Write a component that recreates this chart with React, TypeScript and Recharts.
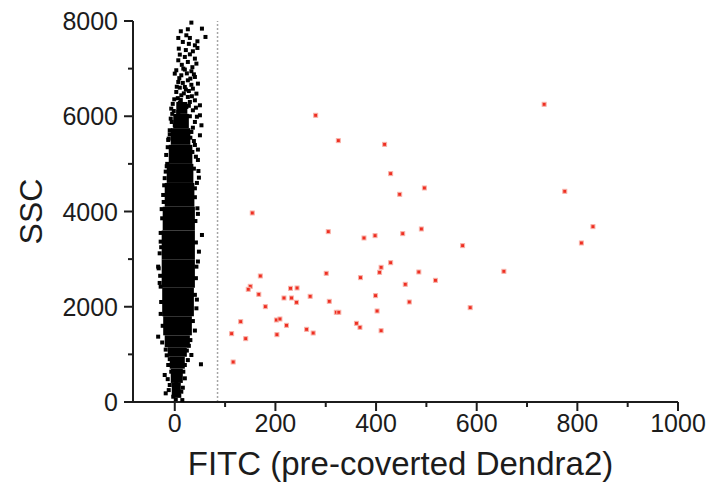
import React from 'react';
import { ScatterChart, Scatter, XAxis, YAxis, ReferenceArea, ReferenceLine, Label } from 'recharts';

// red events past the gate (FITC, SSC)
const converted = [
  { x: 280, y: 6020 }, { x: 325, y: 5488 }, { x: 417, y: 5410 }, { x: 429, y: 4795 },
  { x: 496, y: 4494 }, { x: 447, y: 4361 }, { x: 154, y: 3969 }, { x: 305, y: 3577 },
  { x: 376, y: 3444 }, { x: 398, y: 3493 }, { x: 453, y: 3535 }, { x: 490, y: 3633 },
  { x: 429, y: 2925 }, { x: 410, y: 2828 }, { x: 407, y: 2723 }, { x: 485, y: 2730 },
  { x: 518, y: 2555 }, { x: 170, y: 2646 }, { x: 301, y: 2702 }, { x: 369, y: 2611 },
  { x: 458, y: 2471 }, { x: 150, y: 2429 }, { x: 146, y: 2366 }, { x: 230, y: 2387 },
  { x: 243, y: 2394 }, { x: 167, y: 2261 }, { x: 217, y: 2184 }, { x: 232, y: 2184 },
  { x: 242, y: 2093 }, { x: 269, y: 2219 }, { x: 307, y: 2114 }, { x: 399, y: 2233 },
  { x: 466, y: 2100 }, { x: 180, y: 2002 }, { x: 321, y: 1884 }, { x: 326, y: 1884 },
  { x: 402, y: 1911 }, { x: 131, y: 1687 }, { x: 202, y: 1722 }, { x: 209, y: 1743 },
  { x: 222, y: 1610 }, { x: 361, y: 1652 }, { x: 368, y: 1568 }, { x: 410, y: 1497 },
  { x: 113, y: 1435 }, { x: 141, y: 1330 }, { x: 203, y: 1414 }, { x: 262, y: 1526 },
  { x: 275, y: 1449 }, { x: 116, y: 840 }, { x: 734, y: 6251 }, { x: 775, y: 4424 },
  { x: 831, y: 3682 }, { x: 808, y: 3339 }, { x: 572, y: 3283 }, { x: 654, y: 2744 },
  { x: 587, y: 1981 },
];

// dense black population, as SSC bands [yLow, yHigh, xLow, xHigh]
const coreBands = [
  [100, 400, -6, 12], [400, 700, -8, 16], [700, 950, -10, 20], [950, 1150, -14, 24],
  [1150, 1400, -20, 30], [1400, 1800, -23, 34], [1800, 2400, -25, 38], [2400, 3000, -26, 40],
  [3000, 3600, -26, 40], [3600, 4100, -24, 40], [4100, 4600, -20, 39], [4600, 5000, -16, 37],
  [5000, 5400, -12, 35], [5400, 5750, -8, 31], [5750, 6050, -3, 28], [6050, 6300, 3, 25],
];

// sparse black events around the core
const unconverted = [
  { x: 33, y: 7966 }, { x: 54, y: 7840 }, { x: 26, y: 7826 }, { x: 12, y: 7784 },
  { x: 23, y: 7700 }, { x: 7, y: 7644 }, { x: 61, y: 7665 }, { x: 30, y: 7644 },
  { x: 45, y: 7574 }, { x: 40, y: 7490 }, { x: 45, y: 7434 }, { x: 36, y: 7364 },
  { x: 10, y: 7294 }, { x: 20, y: 7245 }, { x: 40, y: 7210 }, { x: 7, y: 7175 },
  { x: 26, y: 7140 }, { x: 43, y: 7105 }, { x: 3, y: 6966 }, { x: 17, y: 7000 },
  { x: 33, y: 6945 }, { x: 0, y: 6895 }, { x: 13, y: 6860 }, { x: 40, y: 6825 },
  { x: 26, y: 6755 }, { x: 7, y: 6720 }, { x: 46, y: 6685 }, { x: 20, y: 6615 },
  { x: 36, y: 6580 }, { x: 3, y: 6510 }, { x: 43, y: 6475 }, { x: 13, y: 6440 },
  { x: 26, y: 6405 }, { x: -1, y: 6356 }, { x: 40, y: 6335 }, { x: 10, y: 6285 },
  { x: 50, y: 6230 }, { x: 23, y: 6195 }, { x: -7, y: 6160 }, { x: 36, y: 6125 },
  { x: 7, y: 6090 }, { x: 50, y: 6020 }, { x: -8, y: 5950 }, { x: 20, y: 5964 },
  { x: 40, y: 5880 }, { x: 0, y: 5810 }, { x: 53, y: 5810 }, { x: -10, y: 5705 },
  { x: 33, y: 5670 }, { x: 50, y: 5600 }, { x: -12, y: 5530 }, { x: -13, y: 5502 },
  { x: 40, y: 5397 }, { x: -17, y: 5187 }, { x: 46, y: 5082 }, { x: -18, y: 4837 },
  { x: 48, y: 4711 }, { x: 40, y: 4487 }, { x: -23, y: 4347 }, { x: 45, y: 4067 },
  { x: -25, y: 3857 }, { x: 54, y: 3507 }, { x: -28, y: 3367 }, { x: -30, y: 3122 },
  { x: 48, y: 3157 }, { x: -33, y: 2842 }, { x: -32, y: 2807 }, { x: 43, y: 2842 },
  { x: -28, y: 2422 }, { x: 43, y: 1967 }, { x: -33, y: 1372 }, { x: 33, y: 987 },
  { x: 52, y: 792 }, { x: -20, y: 567 }, { x: -10, y: 357 }, { x: 20, y: 497 },
  { x: 13, y: 216 }, { x: -18, y: 182 }, { x: -3, y: 111 }, { x: 7, y: 777 },
  { x: -13, y: 777 }, { x: -7, y: 636 }, { x: 17, y: 636 }, { x: 3, y: 426 },
  { x: 20, y: 777 }, { x: 15, y: 40 }, { x: 2, y: 60 }, { x: -10, y: 900 },
  { x: 24, y: 1080 }, { x: -18, y: 1100 }, { x: 31, y: 1300 }, { x: -24, y: 1600 },
  { x: 36, y: 1700 }, { x: -27, y: 2100 }, { x: 40, y: 2250 }, { x: 42, y: 2600 },
  { x: -29, y: 2650 }, { x: 42, y: 3350 }, { x: -28, y: 3550 }, { x: 41, y: 3800 },
  { x: -26, y: 4050 }, { x: 40, y: 4300 }, { x: -21, y: 4550 }, { x: 38, y: 4900 },
  { x: -15, y: 5000 }, { x: 35, y: 5250 }, { x: 31, y: 5550 }, { x: -5, y: 6050 },
  { x: 30, y: 6000 }, { x: 16, y: 7560 }, { x: 28, y: 7520 }, { x: 8, y: 7420 },
  { x: 22, y: 7390 }, { x: 30, y: 7300 }, { x: 14, y: 7080 }, { x: 35, y: 7030 },
  { x: 24, y: 6900 }, { x: 9, y: 6800 }, { x: 31, y: 6790 }, { x: 16, y: 6700 },
  { x: 33, y: 6660 }, { x: 10, y: 6600 }, { x: 28, y: 6530 }, { x: 18, y: 6480 },
  { x: 34, y: 6420 }, { x: 6, y: 6380 }, { x: 30, y: 6300 }, { x: -4, y: 6260 },
  { x: 28, y: 6220 }, { x: 42, y: 6180 }, { x: -2, y: 6110 }, { x: 44, y: 5990 },
  { x: -6, y: 5880 }, { x: 36, y: 5760 }, { x: -10, y: 5620 }, { x: 38, y: 5480 },
  { x: -14, y: 5350 }, { x: 42, y: 5150 }, { x: -16, y: 4950 }, { x: 44, y: 4600 },
  { x: -22, y: 4200 }, { x: 46, y: 3950 }, { x: -27, y: 3250 }, { x: 46, y: 2950 },
  { x: -30, y: 2500 }, { x: 44, y: 2150 }, { x: -28, y: 1850 }, { x: 40, y: 1500 },
  { x: -25, y: 1250 }, { x: 28, y: 1180 }, { x: -16, y: 980 }, { x: 26, y: 880 },
  { x: -14, y: 480 }, { x: 16, y: 300 }, { x: -12, y: 250 }, { x: 9, y: 130 },
  { x: 20, y: 6980 }, { x: 38, y: 6880 }, { x: 4, y: 6620 }, { x: 22, y: 6560 },
  { x: 12, y: 6340 }, { x: 46, y: 5300 }, { x: 47, y: 4850 }, { x: -20, y: 4700 },
];

const xTicks = [0, 100, 200, 300, 400, 500, 600, 700, 800, 900, 1000];
const yTicks = [0, 1000, 2000, 3000, 4000, 5000, 6000, 7000, 8000];
const gateX = 85;

const font = '"Liberation Sans", Arial, Helvetica, sans-serif';
const ink = '#1c1c1c';

const dot = (color: string, s: number, halo?: string) => (p: any) => (
  <rect
    x={p.cx - s / 2}
    y={p.cy - s / 2}
    width={s}
    height={s}
    fill={color}
    stroke={halo || 'none'}
    strokeWidth={halo ? 1 : 0}
  />
);

const XTick = (props: any) => {
  const { x, y, payload } = props;
  const major = payload.value % 200 === 0;
  return (
    <g>
      <line x1={x} x2={x} y1={y} y2={y + (major ? 9 : 5)} stroke={ink} strokeWidth={2} />
      {major && (
        <text x={x} y={y + 30} textAnchor="middle" fontSize={25} fontFamily={font} fill={ink}>
          {payload.value}
        </text>
      )}
    </g>
  );
};

const YTick = (props: any) => {
  const { x, y, payload } = props;
  const major = payload.value % 2000 === 0;
  return (
    <g>
      <line x1={x - (major ? 9 : 5)} x2={x} y1={y} y2={y} stroke={ink} strokeWidth={2} />
      {major && (
        <text x={x - 15} y={y + 9} textAnchor="end" fontSize={25} fontFamily={font} fill={ink}>
          {payload.value}
        </text>
      )}
    </g>
  );
};

export default function App() {
  return (
    <div style={{ position: 'absolute', left: 0, top: 0, background: '#fff' }}>
      <ScatterChart width={712} height={495} margin={{ top: 21, right: 34, bottom: 0, left: 0 }}>
        <XAxis
          type="number"
          dataKey="x"
          domain={[-83, 1000]}
          ticks={xTicks}
          allowDataOverflow
          height={93}
          tickSize={0}
          tickMargin={0}
          tick={<XTick />}
          axisLine={{ stroke: ink, strokeWidth: 2 }}
          tickLine={false}
          interval={0}
        >
          <Label
            content={(p: any) => (
              <text
                x={p.viewBox.x + p.viewBox.width / 2 - 5}
                y={p.viewBox.y + 73}
                textAnchor="middle"
                fontSize={33}
                fontFamily={font}
                fill={ink}
              >
                FITC (pre-coverted Dendra2)
              </text>
            )}
          />
        </XAxis>
        <YAxis
          type="number"
          dataKey="y"
          domain={[0, 8000]}
          ticks={yTicks}
          width={133}
          tickSize={0}
          tickMargin={0}
          tick={<YTick />}
          axisLine={{ stroke: ink, strokeWidth: 2 }}
          tickLine={false}
          interval={0}
        >
          <Label
            content={(p: any) => {
              const cx = p.viewBox.x + 42;
              const cy = p.viewBox.y + p.viewBox.height / 2;
              return (
                <text
                  x={cx}
                  y={cy}
                  transform={`rotate(-90 ${cx} ${cy})`}
                  textAnchor="middle"
                  fontSize={32}
                  fontFamily={font}
                  fill={ink}
                >
                  SSC
                </text>
              );
            }}
          />
        </YAxis>
        {coreBands.map((b, i) => (
          <ReferenceArea key={i} x1={b[2]} x2={b[3]} y1={b[0]} y2={b[1]} fill="#000" fillOpacity={1} stroke="none" />
        ))}
        <ReferenceLine x={gateX} stroke="#a5a5a5" strokeWidth={1.5} strokeDasharray="2 2" />
        <Scatter data={unconverted} shape={dot('#000', 4)} isAnimationActive={false} />
        <Scatter data={converted} shape={dot('#ee2f22', 4, '#f8b4ab')} isAnimationActive={false} />
      </ScatterChart>
    </div>
  );
}
